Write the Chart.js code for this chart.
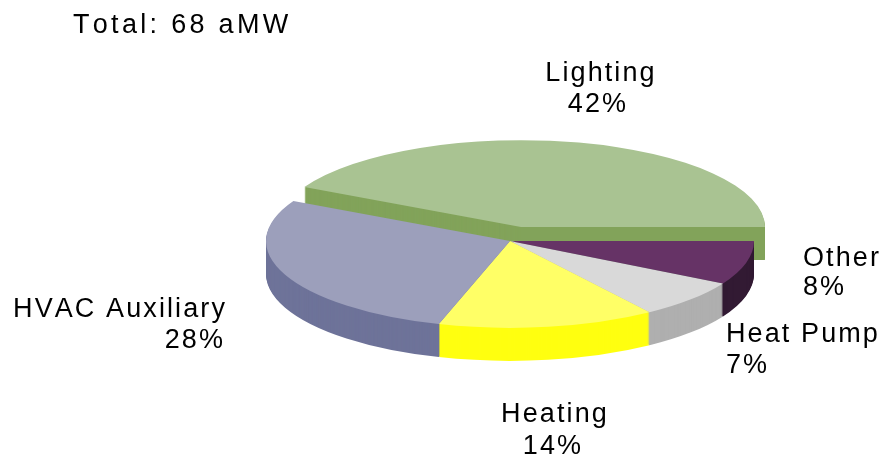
<!DOCTYPE html>
<html>
<head>
<meta charset="utf-8">
<style>
  html, body { margin: 0; padding: 0; background: #fff; }
  canvas { display: block; }
</style>
<script src="https://cdn.jsdelivr.net/npm/chart.js@4/dist/chart.umd.min.js"></script>
</head>
<body>
<canvas id="chart" width="885" height="459"></canvas>
<script>
// Data
const categories = ['Lighting', 'Other', 'Heat Pump', 'Heating', 'HVAC Auxiliary'];
const shares = [42.4, 8.1, 7.2, 14.4, 27.9];
const totalLabel = 'Total: 68 aMW';

// Slice colours: top face and side wall
const topColors = ['#a9c392', '#663366', '#d9d9d9', '#ffff66', '#9c9fbb'];
const wallColors = ['#82a35a', '#321a33', '#afafaf', '#ffff10', '#6e7399'];

const TILT = 0.356;
const DEPTH = 33;
const EXPLODED = 0;
const EXPLODE_SHIFT = { x: 11, y: -14 };

// Text placement: [x, baseline, align]
const labelPlaces = [
  [601, 81, 'center'],
  [803, 266, 'left'],
  [726, 342, 'left'],
  [555, 422, 'center'],
  [227, 317, 'right']
];
const percentPlaces = [
  [598, 112, 'center'],
  [803, 295, 'left'],
  [726, 373, 'left'],
  [553, 454, 'center'],
  [225, 348, 'right']
];

function drawSlice(ctx, arc, color, shift, drop) {
  ctx.save();
  ctx.translate(arc.x + shift.x, arc.y + shift.y + drop);
  ctx.scale(1, TILT);
  ctx.translate(-arc.x, -arc.y);
  const face = Object.create(arc);
  face.options = Object.assign({}, arc.options, { backgroundColor: color });
  arc.draw.call(face, ctx);
  ctx.restore();
}

// Flattens the pie into an ellipse and stacks it to give the wall
const tiltedPie = {
  id: 'tiltedPie',
  beforeDatasetsDraw(chart) {
    const ctx = chart.ctx;
    const arcs = chart.getDatasetMeta(0).data;
    const none = { x: 0, y: 0 };

    for (let d = DEPTH; d > 0; d--) {
      drawSlice(ctx, arcs[EXPLODED], wallColors[EXPLODED], EXPLODE_SHIFT, d);
    }
    drawSlice(ctx, arcs[EXPLODED], topColors[EXPLODED], EXPLODE_SHIFT, 0);

    for (let d = DEPTH; d > 0; d--) {
      arcs.forEach((arc, i) => {
        if (i !== EXPLODED) drawSlice(ctx, arc, wallColors[i], none, d);
      });
    }
    arcs.forEach((arc, i) => {
      if (i !== EXPLODED) drawSlice(ctx, arc, topColors[i], none, 0);
    });
    return false;
  },
  afterDraw(chart) {
    const ctx = chart.ctx;
    ctx.save();
    ctx.fillStyle = '#000';
    ctx.font = '27px "Liberation Sans", Arial, sans-serif';
    ctx.fontKerning = 'none';
    ctx.textBaseline = 'alphabetic';
    ctx.textAlign = 'left';
    ctx.letterSpacing = '3.3px';
    ctx.fillText(totalLabel, 73, 33);
    ctx.letterSpacing = '2.1px';
    categories.forEach((name, i) => {
      ctx.textAlign = labelPlaces[i][2];
      ctx.fillText(name, labelPlaces[i][0], labelPlaces[i][1]);
      ctx.textAlign = percentPlaces[i][2];
      ctx.fillText(Math.round(shares[i]) + '%', percentPlaces[i][0], percentPlaces[i][1]);
    });
    ctx.restore();
  }
};

new Chart(document.getElementById('chart'), {
  type: 'pie',
  data: {
    labels: categories,
    datasets: [{
      data: shares,
      backgroundColor: topColors,
      borderWidth: 0
    }]
  },
  options: {
    responsive: false,
    animation: false,
    rotation: -62.6,
    radius: 244,
    layout: { padding: { left: 135, top: 23 } },
    plugins: {
      legend: { display: false },
      tooltip: { enabled: false }
    }
  },
  plugins: [tiltedPie]
});
</script>
</body>
</html>
